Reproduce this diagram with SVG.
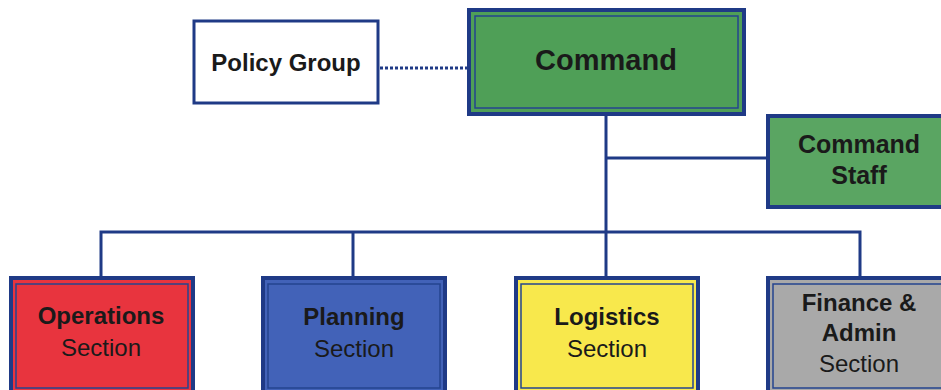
<svg xmlns="http://www.w3.org/2000/svg" width="941" height="390" viewBox="0 0 941 390">
<style>
.outer{stroke:#1f3a86;stroke-width:4}
.inner{fill:none;stroke:#24448f;stroke-width:1.5}
.t{font-family:"Liberation Sans",Arial,sans-serif;fill:#1a1a1a;text-anchor:middle}
.b{font-weight:bold}
.conn{stroke:#1f3a86;stroke-width:3;fill:none}
</style>
<rect width="941" height="390" fill="#ffffff"/>
<g id="connectors">
<line class="conn" x1="380" y1="68" x2="467" y2="68" stroke-dasharray="3,2" stroke-width="2"/>
<line class="conn" x1="606" y1="116" x2="606" y2="232"/>
<line class="conn" x1="606" y1="158" x2="767" y2="158"/>
<polyline class="conn" points="101,277 101,232 860,232 860,277"/>
<line class="conn" x1="353" y1="232" x2="353" y2="277"/>
<line class="conn" x1="606" y1="232" x2="606" y2="277"/>
</g>
<g id="policy-group">
<rect x="194" y="21" width="184" height="82" fill="#ffffff" stroke="#1f3a86" stroke-width="3"/>
<text class="t b" x="286" y="71" font-size="24">Policy Group</text>
</g>
<g id="command">
<rect class="outer" x="469" y="10" width="275" height="104" fill="#4f9f57"/>
<rect class="inner" x="475" y="16" width="263" height="92"/>
<text class="t b" x="606" y="70" font-size="29">Command</text>
</g>
<g id="command-staff">
<rect class="outer" x="768" y="116" width="180" height="91" fill="#5aa562"/>
<text class="t b" x="859" y="153" font-size="25">Command</text>
<text class="t b" x="859" y="184" font-size="25">Staff</text>
</g>
<g id="operations">
<rect class="outer" x="11" y="278" width="182" height="120" fill="#e8343e"/>
<rect class="inner" x="16" y="284" width="172" height="104"/>
<text class="t b" x="101" y="324" font-size="24">Operations</text>
<text class="t" x="101" y="356" font-size="24">Section</text>
</g>
<g id="planning">
<rect class="outer" x="263" y="278" width="182" height="120" fill="#4262b8"/>
<rect class="inner" x="268" y="284" width="172" height="104"/>
<text class="t b" x="354" y="325" font-size="24">Planning</text>
<text class="t" x="354" y="357" font-size="24">Section</text>
</g>
<g id="logistics">
<rect class="outer" x="516" y="278" width="182" height="120" fill="#f8e84c"/>
<rect class="inner" x="521" y="284" width="172" height="104"/>
<text class="t b" x="607" y="325" font-size="24">Logistics</text>
<text class="t" x="607" y="357" font-size="24">Section</text>
</g>
<g id="finance-admin">
<rect class="outer" x="768" y="278" width="182" height="120" fill="#a9a9a9"/>
<rect class="inner" x="773" y="284" width="172" height="104"/>
<text class="t b" x="859" y="311" font-size="24">Finance &amp;</text>
<text class="t b" x="859" y="341" font-size="24">Admin</text>
<text class="t" x="859" y="372" font-size="24">Section</text>
</g>
</svg>
